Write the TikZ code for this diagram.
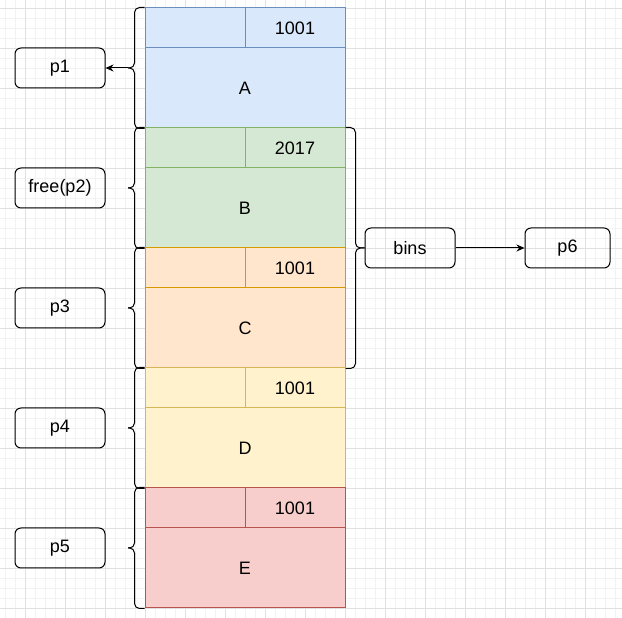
\documentclass[tikz,border=0pt]{standalone}
\usepackage{fontspec}
\setmainfont{Liberation Sans}
\usetikzlibrary{arrows.meta}
\definecolor{gridminor}{HTML}{F2F2F2}
\definecolor{gridmajor}{HTML}{E0E0E0}
\definecolor{bluefill}{HTML}{DAE8FC}
\definecolor{blueline}{HTML}{6C8EBF}
\definecolor{greenfill}{HTML}{D5E8D4}
\definecolor{greenline}{HTML}{82B366}
\definecolor{orangefill}{HTML}{FFE6CC}
\definecolor{orangeline}{HTML}{D79B00}
\definecolor{yellowfill}{HTML}{FFF2CC}
\definecolor{yellowline}{HTML}{D6B656}
\definecolor{redfill}{HTML}{F8CECC}
\definecolor{redline}{HTML}{B85450}

\begin{document}
\begin{tikzpicture}[x=1pt, y=1pt]
  \tikzstyle{every node}=[font=\fontsize{18}{21}\selectfont]
  \tikzstyle{cell}=[line width=1pt, inner sep=0pt, minimum width=100pt, minimum height=40pt]
  \tikzstyle{ptr}=[draw, line width=1pt, rounded corners=6pt, inner sep=0pt, minimum width=90pt, minimum height=40pt]
  \tikzstyle{curl}=[line width=1pt, rounded corners=5pt]
  \tikzstyle{link}=[line width=1pt, -{Stealth[length=8pt, width=7pt]}]
  % background grid
  \fill[white] (0,0) rectangle (622,618);
  \useasboundingbox (0,0) rectangle (622,618);
  \draw[gridminor, line width=0.8pt, xshift=5pt, step=10pt] (-5,0) grid (617,618);
  \draw[gridmajor, line width=0.8pt, xshift=25pt, yshift=10pt, step=40pt] (-25,-10) grid (597,608);
  %
  % heap chunks, header + body, with their pointers
  \foreach \nm/\val/\ptr/\col [count=\i] in {A/1001/p1/blue, B/2017/free(p2)/green,
      C/1001/p3/orange, D/1001/p4/yellow, E/1001/p5/red}{
    \pgfmathsetmacro\ytop{730-120*\i}
    \node[cell, draw=\col line, fill=\col fill] (h\nm) at (195,\ytop-20) {};
    \node[cell, draw=\col line, fill=\col fill] (v\nm) at (295,\ytop-20) {\val};
    \node[cell, draw=\col line, fill=\col fill, minimum width=200pt, minimum height=80pt] (\nm) at (245,\ytop-80) {\nm};
    \node[ptr] (p\i) at (60,\ytop-60) {\ptr};
    \coordinate (t\nm) at (128,\ytop-60);
    \draw[curl] (h\nm.north west) -- ++(-10,0) |- (t\nm);
    \draw[curl] (\nm.south west) -- ++(-10,0) |- (t\nm);
  }
  \draw[link] (tA) -- (p1);
  %
  % free list
  \node[ptr] (bins) at (410,370) {bins};
  \node[ptr, minimum width=85pt] (p6) at (567.5,370) {p6};
  \draw[curl] (vB.north east) -- ++(10,0) |- (bins.west);
  \draw[curl] (C.south east) -- ++(10,0) |- (bins.west);
  \draw[link] (bins) -- (p6);
\end{tikzpicture}
\end{document}
